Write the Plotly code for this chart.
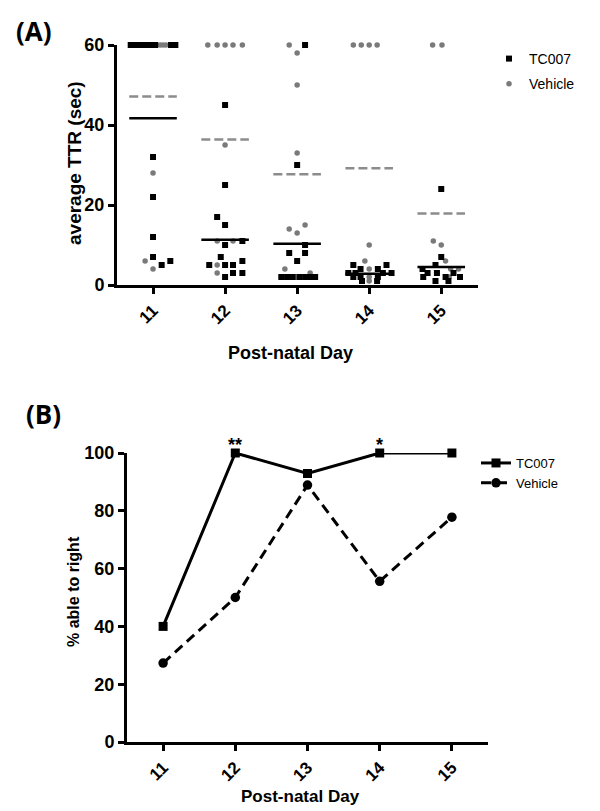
import plotly.graph_objects as go

# ---------------- Panel A data: individual animals (average TTR, sec) ----------------
days = [11, 12, 13, 14, 15]
day_labels = ["11", "12", "13", "14", "15"]

# TC007 points: day, value, horizontal jitter (in day units, as seen in the scatter)
tc_day = ([11] * 15 + [12] * 14 + [13] * 13 + [14] * 13 + [15] * 12)
tc_val = ([60, 60, 60, 60, 60, 60, 60, 60, 60, 32, 22, 12, 7, 5, 6] +
          [45, 25, 17, 15, 11, 10, 7, 6, 5, 5, 5, 3, 3, 2] +
          [60, 30, 10, 8, 8, 6, 2, 2, 2, 2, 2, 2, 2] +
          [5, 5, 4, 4, 3, 3, 3, 3, 2, 2, 2, 1, 1] +
          [24, 7, 5, 4, 3, 3, 3, 2, 2, 2, 1, 1])
tc_jit = ([-0.31, -0.28, -0.24, -0.17, -0.10, -0.03, 0.03, 0.25, 0.31, 0, 0, 0, 0, 0.12, 0.24] +
          [0, 0, -0.11, 0, 0.24, 0, -0.06, 0.24, -0.22, 0, 0.11, 0.11, 0.24, 0] +
          [0.11, 0, 0.11, -0.11, 0.11, 0, -0.22, -0.14, -0.06, 0.03, 0.11, 0.19, 0.25] +
          [-0.22, 0.24, -0.12, 0.12, -0.29, -0.19, 0.19, 0.31, -0.22, -0.12, 0.12, -0.10, 0.11] +
          [0, 0, -0.08, -0.26, -0.19, -0.06, 0.17, -0.25, 0.06, 0.26, -0.08, 0.10])

# Vehicle points
veh_day = ([11] * 11 + [12] * 10 + [13] * 9 + [14] * 9 + [15] * 9)
veh_val = ([60, 60, 60, 60, 60, 60, 60, 60, 28, 6, 4] +
           [60, 60, 60, 60, 60, 35, 11, 11, 5, 3] +
           [60, 58, 50, 33, 15, 14, 13, 4, 3] +
           [60, 60, 60, 60, 10, 6, 4, 2, 1] +
           [60, 60, 11, 10, 6, 4, 4, 3, 2])
veh_jit = ([-0.25, -0.15, -0.05, 0.0, 0.05, 0.10, 0.14, 0.18, 0, -0.11, 0] +
           [-0.24, -0.11, 0, 0.11, 0.24, 0, -0.11, 0.11, -0.11, -0.11] +
           [-0.11, 0, 0, 0, 0.11, -0.11, 0, -0.17, 0.18] +
           [-0.22, -0.11, 0, 0.11, 0, -0.06, 0, 0, 0] +
           [-0.12, 0.01, -0.11, 0, 0.06, 0.13, 0.24, -0.06, 0.11])

# group means (horizontal bars)
tc_mean = [41.7, 11.3, 10.3, 2.8, 4.5]
veh_mean = [47.1, 36.4, 27.7, 29.2, 17.9]

# ---------------- Panel B data: % able to right ----------------
tc_pct = [40, 100, 92.9, 100, 100]
veh_pct = [27.3, 50, 88.9, 55.6, 77.8]
sig_days = [12, 14]
sig_marks = ["**", "*"]

FONT = "Arial, 'Liberation Sans', sans-serif"
GREY = "#7a7a7a"
GREY_DASH = "#8c8c8c"
OFF = 8                      # page body margin of the html page
W, H = 600 - OFF, 811 - OFF


def px_x(p):
    return (p - OFF) / W


def px_y(p):
    return 1 - (p - OFF) / H


fig = go.Figure()

# ---- Panel A ----
fig.add_trace(go.Scatter(
    x=[d + j for d, j in zip(veh_day, veh_jit)], y=veh_val, mode="markers",
    name="Vehicle", legend="legend", legendgroup="av", legendrank=2,
    marker=dict(symbol="circle", size=5.5, color=GREY),
    cliponaxis=False, xaxis="x", yaxis="y"))
fig.add_trace(go.Scatter(
    x=[d + j for d, j in zip(tc_day, tc_jit)], y=tc_val, mode="markers",
    name="TC007", legend="legend", legendgroup="at", legendrank=1,
    marker=dict(symbol="square", size=6, color="black"),
    cliponaxis=False, xaxis="x", yaxis="y"))


def seg(means):
    xs, ys = [], []
    for d, m in zip(days, means):
        xs += [d - 0.33, d + 0.33, None]
        ys += [m, m, None]
    return xs, ys


vx, vy = seg(veh_mean)
fig.add_trace(go.Scatter(x=vx, y=vy, mode="lines", showlegend=False,
                         line=dict(color=GREY_DASH, width=2.5, dash="9px,4px"),
                         xaxis="x", yaxis="y"))
tx, ty = seg(tc_mean)
fig.add_trace(go.Scatter(x=tx, y=ty, mode="lines", showlegend=False,
                         line=dict(color="black", width=2.5),
                         xaxis="x", yaxis="y"))

# ---- Panel B ----
fig.add_trace(go.Scatter(
    x=days, y=tc_pct, mode="lines+markers", name="TC007",
    legend="legend2", legendrank=1,
    line=dict(color="black", width=3),
    marker=dict(symbol="square", size=9, color="black"),
    cliponaxis=False, xaxis="x2", yaxis="y2"))
fig.add_trace(go.Scatter(
    x=days, y=veh_pct, mode="lines+markers", name="Vehicle",
    legend="legend2", legendrank=2,
    line=dict(color="black", width=3, dash="10px,6px"),
    marker=dict(symbol="circle", size=9.5, color="black"),
    cliponaxis=False, xaxis="x2", yaxis="y2"))

axis_common = dict(showline=True, linewidth=3, linecolor="black", showgrid=False,
                   zeroline=False, ticks="outside", tickwidth=3, tickcolor="black",
                   fixedrange=True, automargin=False)

fig.update_layout(
    width=W, height=H,
    margin=dict(l=0, r=0, t=0, b=0),
    paper_bgcolor="white", plot_bgcolor="white",
    font=dict(family=FONT, color="black"),
    xaxis=dict(domain=[px_x(117), px_x(478)], range=[10.5, 15.51], anchor="y",
               tickvals=days, ticktext=day_labels, tickangle=-45, ticklen=6,
               tickfont=dict(size=17, weight="bold"), **axis_common),
    yaxis=dict(domain=[px_y(285), px_y(45)], range=[0, 60], anchor="x",
               tickvals=[0, 20, 40, 60], ticklen=6,
               tickfont=dict(size=18, weight="bold"), **axis_common),
    xaxis2=dict(domain=[px_x(127), px_x(488)], range=[10.5, 15.5], anchor="y2",
                tickvals=days, ticktext=day_labels, tickangle=-45, ticklen=6,
                tickfont=dict(size=17, weight="bold"), **axis_common),
    yaxis2=dict(domain=[px_y(742), px_y(453)], range=[0, 100], anchor="x2",
                tickvals=[0, 20, 40, 60, 80, 100], ticklen=6,
                tickfont=dict(size=18, weight="bold"), **axis_common),
    legend=dict(x=px_x(489), y=px_y(43), xanchor="left", yanchor="top",
                bgcolor="rgba(0,0,0,0)", font=dict(size=14, color="black"),
                tracegroupgap=4, itemclick=False),
    legend2=dict(x=px_x(476), y=px_y(448), xanchor="left", yanchor="top",
                 bgcolor="rgba(0,0,0,0)", font=dict(size=13, color="black"),
                 itemclick=False),
)

annos = [
    dict(text="(A)", x=px_x(34), y=px_y(31), font=dict(size=26, weight="bold", family="'Open Sans', Arial")),
    dict(text="(B)", x=px_x(43), y=px_y(414), font=dict(size=26, weight="bold", family="'Open Sans', Arial")),
    dict(text="average TTR (sec)", x=px_x(74), y=px_y(163), textangle=-90,
         font=dict(size=19, weight="bold")),
    dict(text="Post-natal Day", x=px_x(290), y=px_y(353), font=dict(size=18, weight="bold")),
    dict(text="% able to right", x=px_x(73), y=px_y(592), textangle=-90,
         font=dict(size=16, weight="bold")),
    dict(text="Post-natal Day", x=px_x(300), y=px_y(796), font=dict(size=17, weight="bold")),
]
for a in annos:
    fig.add_annotation(xref="paper", yref="paper", showarrow=False,
                       xanchor="center", yanchor="middle", **a)

for d, s in zip(sig_days, sig_marks):
    fig.add_annotation(x=d, y=100, xref="x2", yref="y2", text=s, showarrow=False,
                       yanchor="bottom", yshift=-4, font=dict(size=18, weight="bold"))

fig.write_html("out.html")
